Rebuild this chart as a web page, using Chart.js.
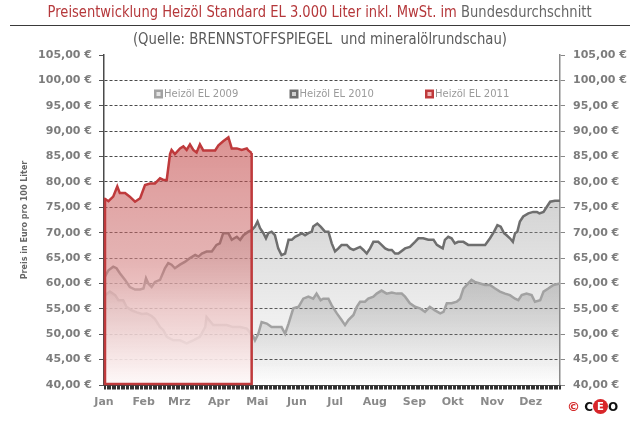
<!DOCTYPE html>
<html>
<head>
<meta charset="utf-8">
<script src="https://cdn.jsdelivr.net/npm/chart.js@4/dist/chart.umd.min.js"></script>
<style>
html,body{margin:0;padding:0;background:#fff;width:640px;height:427px;overflow:hidden;font-family:"DejaVu Sans",sans-serif}
#wrap{position:relative;width:640px;height:427px}
#c{position:absolute;left:0;top:0}
.line{position:absolute;left:0;width:640px;text-align:center;white-space:nowrap}
.line span.in{display:inline-block;transform-origin:50% 50%}
#title{top:3px;font-size:15px;line-height:18px}
#sub{top:30px;font-size:15px;line-height:18px;color:#5a5a5a}
.red{color:#b5383b}
.gray{color:#666}
#rule{position:absolute;left:10px;width:620px;top:25px;height:0;border-top:1px solid #3a3a3a}
#logo{position:absolute;left:567px;top:399px;height:16px;white-space:nowrap;font-weight:bold;font-size:12px;line-height:16px}
#logo .cp{color:#d42b2b;font-size:13px}
#logo .k{color:#111}
#logo .e{display:inline-block;width:15px;height:15px;border-radius:50%;background:#d8262a;color:#fff;text-align:center;line-height:15px;font-size:10px;vertical-align:top}
</style>
</head>
<body>
<div id="wrap">
  <canvas id="c" width="640" height="427"></canvas>
  <div id="title" class="line"><span class="in" id="titleIn"><span class="red">Preisentwicklung Heizöl Standard EL 3.000 Liter inkl. MwSt. im</span> <span class="gray">Bundesdurchschnitt</span></span></div>
  <div id="rule"></div>
  <div id="sub" class="line"><span class="in" id="subIn">(Quelle: BRENNSTOFFSPIEGEL&nbsp; und mineralölrundschau)</span></div>
  <div id="logo"><span class="cp">©</span> <span class="k">C</span><span class="e">E</span><span class="k">O</span></div>
</div>
<script>
// ---- Data (x = Tag im Jahr, gelesen aus dem Bild) ----
const monthLabels = ['Jan','Feb','Mrz','Apr','Mai','Jun','Jul','Aug','Sep','Okt','Nov','Dez'];
const monthStartDays = [0,31,59,90,120,151,181,212,243,273,304,334];
const seriesLabels = ['Heizöl EL 2009','Heizöl EL 2010','Heizöl EL 2011'];

const days2009 = [0,4.6,8.7,11.3,15,17.6,21.7,25.7,29.5,33.5,37.3,39.9,43.9,46.5,49.1,54.3,59.5,64.7,69.9,75.1,79.2,80.3,85.5,90.7,95.9,101.1,106.6,111.8,117,
  118.2,120.8,123.4,127.4,131.2,135.2,139,141.8,144.5,148.2,152.3,156,160,163.8,166.4,169.6,171.6,175.7,178.3,182.3,186,188.7,191.3,195.3,197.9,200.5,204.3,206.9,210.9,213.5,217.3,221.3,225.3,229.1,233.1,
  235.7,239.5,243.5,247.3,251.3,255.1,259.1,263.2,265.8,268.4,272.1,276.2,278.8,281.4,285.1,287.7,290.3,294.4,298.4,302.2,306.2,310,314,317.8,321.8,324.4,327,330.8,334.8,337.4,341.5,344.1,347.8,351.9,357];
const prices2009 = [57.5,58.4,57.7,56.7,56.7,55.4,54.7,54.3,54,54.1,53.6,53,51.4,50.8,49.5,48.8,48.8,48.2,48.8,49.5,51.4,53.4,51.8,51.8,51.8,51.4,51.4,51.1,49.5,
  48.8,50.1,52.4,52.1,51.4,51.4,51.4,50.1,52.1,55.1,55.4,57,57.4,57,58,56.7,57,57,55.7,54.1,52.8,51.8,52.8,53.8,55.4,56.4,56.4,57,57.4,58,58.6,58,58.2,58,58,
  57.4,56.1,55.4,55.1,54.4,55.4,54.7,54.1,54.4,56.1,56.1,56.4,57,59,60,60.7,60.3,60,59.7,59.7,59,58.4,58,57.7,57,56.7,57.7,58,57.7,56.4,56.7,58.4,59,59.7,60];

const days2010 = [0,3.5,7.2,9.8,12.4,16.5,20.2,24.3,28.3,30.9,32.9,34.7,37.3,39.9,43.9,47.7,50.3,52.9,55.5,59.5,63.6,67.3,71.4,74,76.6,80.3,84.4,88.1,90.7,93.3,97.4,100,104,106.6,109.2,113,115.6,
  118.2,120.2,122.2,124.8,126.8,128.6,131.2,133.8,136.4,139,141.8,144.5,147,149.6,152.3,154.9,157.4,160,162.7,163.8,167,169.6,173,175.7,178.3,180.9,183.5,186,190.1,192.7,195.3,197.9,200.5,203.1,205.7,208.3,210.9,214.7,217.3,220.1,222.7,225.3,227.9,230.5,
  235.7,239.5,243.5,246.1,249.9,253.9,258,260.6,263.2,265.2,266.9,269.5,272.1,274.7,277.3,281.4,285.1,291.8,298.4,302.2,305.4,308,310.6,313.2,315.2,317.8,320.1,321.8,323.6,325.6,328.2,332.2,336,338.9,340.9,344.1,346.7,349.3,353,357];
const prices2010 = [61,62.6,63.3,63,62,60.7,59.3,58.8,58.8,59,61,60,59.3,60.3,60.7,63,64,63.7,63,63.7,64.3,65,65.6,65.3,65.9,66.3,66.3,67.6,67.9,69.9,69.9,68.6,69.2,68.6,69.5,70.2,70.5,
  71.2,72.2,70.9,69.9,68.9,69.9,70.2,69.5,66.9,65.6,65.9,68.6,68.6,69.2,69.5,69.9,69.5,69.9,70.2,71.2,71.8,71.2,70.2,70.2,67.9,66.3,66.9,67.6,67.6,66.9,66.6,66.9,67.2,66.6,65.9,66.9,68.2,68.2,67.6,66.9,66.6,66.6,65.9,65.9,
  66.9,67.2,68.2,68.9,68.9,68.6,68.6,67.6,67.2,66.9,68.6,69.2,68.9,67.9,68.2,68.2,67.6,67.6,67.6,68.9,70.2,71.5,71.2,69.9,69.5,68.9,68.2,69.9,70.2,72.2,73.2,73.8,74.1,74.1,73.8,74.1,75.1,76.1,76.3,76.3];

const days2011 = [0,3.5,7.2,10.4,12.4,16.5,20.2,24.3,28.3,32.1,36.1,39.9,43.9,46.5,49.1,51.7,52.9,55.5,59.5,62.1,64.7,67.3,69.9,72.5,75.1,77.7,81.8,87,89.6,93.3,97.4,100,104,107.8,111.8,113,115.6];
const prices2011 = [76.8,76.2,77.1,79.1,77.8,77.8,77.1,76.1,76.8,79.4,79.7,79.7,80.7,80.4,80.4,85.5,86.3,85.5,86.6,87,86.3,87.4,86.3,85.8,87.4,86.2,86.2,86.2,87.2,88,88.8,86.6,86.6,86.3,86.6,86.2,85.7];

const yMin = 40, yMax = 105, yStep = 5;
const xMax = 357;

// ---- helpers ----
const toPoints = (xs, ys) => xs.map((x, i) => ({x: x, y: ys[i]}));
const fmtEuro = v => v.toFixed(2).replace('.', ',') + ' €';

function vGrad(chart, topVal, stops) {
  const {ctx, chartArea, scales} = chart;
  if (!chartArea) return null;
  const y0 = scales.y.getPixelForValue(topVal);
  const y1 = scales.y.getPixelForValue(yMin);
  const g = ctx.createLinearGradient(0, y0, 0, y1);
  stops.forEach(s => g.addColorStop(s[0], s[1]));
  return g;
}

const seriesColors = ['#a2a2a2', '#6e6e6e', '#bf3a3c'];
const legendInner = ['#e4e4e4', '#d0d0d0', '#f2b8b8'];

const legendPlugin = {
  id: 'innerLegend',
  afterDatasetsDraw(chart) {
    const {ctx, chartArea} = chart;
    const cx = (chartArea.left + chartArea.right) / 2;
    const step = 135.5;
    const y = 94;
    ctx.save();
    ctx.font = "10px 'DejaVu Sans', sans-serif";
    ctx.textBaseline = 'middle';
    ctx.textAlign = 'left';
    chart.data.datasets.forEach((ds, i) => {
      const x = cx - 178 + i * step;
      ctx.fillStyle = seriesColors[i];
      ctx.fillRect(x, y - 4.5, 9, 9);
      ctx.fillStyle = legendInner[i];
      ctx.fillRect(x + 2.5, y - 2, 4, 4);
      ctx.fillStyle = '#9a9a9a';
      ctx.fillText(ds.label, x + 10, y + 0.5);
    });
    ctx.restore();
  }
};

const outlinePlugin = {
  id: 'outline2011',
  afterDatasetsDraw(chart) {
    const meta = chart.getDatasetMeta(2);
    const pts = meta.data;
    if (!pts.length) return;
    const {ctx, chartArea} = chart;
    const first = pts[0], last = pts[pts.length - 1];
    ctx.save();
    ctx.strokeStyle = seriesColors[2];
    ctx.lineWidth = 2.5;
    ctx.lineJoin = 'miter';
    ctx.beginPath();
    ctx.moveTo(first.x + 1, first.y);
    ctx.lineTo(first.x + 1, chartArea.bottom - 1);
    ctx.lineTo(last.x, chartArea.bottom - 1);
    ctx.lineTo(last.x, last.y);
    ctx.stroke();
    ctx.restore();
  }
};

// dense day tick marks along the x axis (from the x scale's own ticks)
const dayTicksPlugin = {
  id: 'dayTicks',
  afterDraw(chart) {
    const s = chart.scales.x;
    const {ctx} = chart;
    ctx.save();
    ctx.strokeStyle = '#333';
    ctx.lineWidth = 1;
    ctx.beginPath();
    s.ticks.forEach(t => {
      const x = Math.round(s.getPixelForValue(t.value)) + 0.5;
      ctx.moveTo(x, s.top + 0.5);
      ctx.lineTo(x, s.top + 4.5);
    });
    ctx.stroke();
    ctx.restore();
  }
};

Chart.defaults.font.family = "'DejaVu Sans', sans-serif";

new Chart(document.getElementById('c'), {
  type: 'line',
  data: {
    datasets: [
      {
        label: seriesLabels[0],
        data: toPoints(days2009, prices2009),
        borderColor: seriesColors[0],
        borderWidth: 2.5,
        pointRadius: 0,
        tension: 0,
        fill: 'start',
        order: 2,
        backgroundColor: c => vGrad(c.chart, 61, [[0, 'rgba(120,120,120,0.38)'], [1, 'rgba(120,120,120,0)']])
      },
      {
        label: seriesLabels[1],
        data: toPoints(days2010, prices2010),
        borderColor: seriesColors[1],
        borderWidth: 2.5,
        pointRadius: 0,
        tension: 0,
        fill: 'start',
        order: 1,
        backgroundColor: c => vGrad(c.chart, 76, [[0, 'rgba(160,160,160,0.46)'], [1, 'rgba(160,160,160,0)']])
      },
      {
        label: seriesLabels[2],
        data: toPoints(days2011, prices2011),
        borderColor: seriesColors[2],
        borderWidth: 2.5,
        pointRadius: 0,
        tension: 0,
        fill: 'start',
        order: 0,
        backgroundColor: c => vGrad(c.chart, 89, [[0, 'rgba(192,64,64,0.57)'], [0.42, 'rgba(205,110,110,0.55)'], [0.68, 'rgba(236,194,194,0.8)'], [1, 'rgba(254,249,249,0.95)']])
      }
    ]
  },
  options: {
    responsive: false,
    animation: false,
    devicePixelRatio: 1,
    layout: {padding: {top: 55, left: 0, right: 0, bottom: 0}},
    plugins: {
      legend: {display: false},
      tooltip: {enabled: false},
      title: {display: false}
    },
    scales: {
      x: {
        type: 'linear',
        position: 'bottom',
        min: 0,
        max: xMax,
        afterFit: s => { s.height = 42; },
        ticks: {
          stepSize: 1,
          autoSkip: false,
          maxRotation: 0,
          minRotation: 0,
          padding: 7,
          color: '#8a8a8a',
          font: {size: 11, weight: 'bold'},
          callback: v => {
            const i = monthStartDays.indexOf(Math.round(v));
            return (i >= 0 && Math.abs(v - Math.round(v)) < 1e-6) ? monthLabels[i] : '';
          }
        },
        grid: {drawOnChartArea: false, drawTicks: true, tickLength: 4, tickColor: 'rgba(0,0,0,0)', lineWidth: 1},
        border: {display: true, color: '#4a4a4a', width: 1}
      },
      y: {
        type: 'linear',
        position: 'left',
        min: yMin,
        max: yMax,
        afterFit: s => { s.width = 104; },
        ticks: {
          stepSize: yStep,
          padding: 7,
          color: '#7c7c7c',
          font: {size: 11, weight: 'bold'},
          callback: v => fmtEuro(v)
        },
        title: {
          display: true,
          text: 'Preis in Euro pro 100 Liter',
          color: '#666',
          font: {size: 8, weight: 'bold'},
          padding: {top: 20, bottom: 0}
        },
        grid: {
          drawTicks: true,
          tickLength: 5,
          tickColor: '#555',
          lineWidth: 1,
          color: c => (c.tick && (c.tick.value === yMax || c.tick.value === yMin)) ? 'rgba(0,0,0,0)' : '#4a4a4a'
        },
        border: {display: true, color: '#4a4a4a', width: 1.5, dash: [3, 2]}
      },
      y2: {
        type: 'linear',
        position: 'right',
        min: yMin,
        max: yMax,
        afterFit: s => { s.width = 80; },
        ticks: {
          stepSize: yStep,
          padding: 8,
          color: '#7c7c7c',
          font: {size: 11, weight: 'bold'},
          callback: v => fmtEuro(v)
        },
        grid: {drawOnChartArea: false, drawTicks: true, tickLength: 5, tickColor: '#888'},
        border: {display: true, color: '#8a8a8a', width: 1.5}
      }
    }
  },
  plugins: [legendPlugin, outlinePlugin, dayTicksPlugin]
});

function fitWidth(id, target) {
  const el = document.getElementById(id);
  const w = el.getBoundingClientRect().width;
  if (w > 0) el.style.transform = 'scaleX(' + (target / w) + ')';
}
fitWidth('titleIn', 544);
fitWidth('subIn', 374);
</script>
</body>
</html>
